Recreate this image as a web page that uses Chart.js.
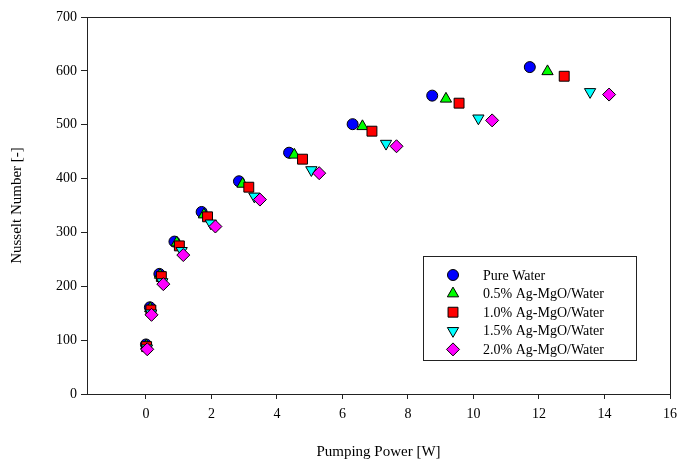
<!DOCTYPE html>
<html lang="en">
<head>
    <meta charset="UTF-8">
    <title>Nusselt Number vs Pumping Power</title>
    <style>
        body { margin: 0; background: #fff; }
        #wrap { width: 680px; height: 465px; position: relative; }
    </style>
</head>
<body>
    <div id="wrap">
        <canvas id="myChart" width="680" height="465"></canvas>
    </div>

    <script src="https://cdn.jsdelivr.net/npm/chart.js@4.4.0/dist/chart.umd.min.js"></script>
    <script>
        // values
        var seriesNames = ['Pure Water', '0.5% Ag-MgO/Water', '1.0% Ag-MgO/Water', '1.5% Ag-MgO/Water', '2.0% Ag-MgO/Water'];

        var waterX = [0.00, 0.12, 0.41, 0.87, 1.70, 2.84, 4.37, 6.31, 8.74, 11.72];
        var waterY = [92, 161, 223, 283, 338, 395, 448, 501, 554, 607];

        var ag05X = [0.01, 0.13, 0.43, 0.94, 1.77, 2.95, 4.53, 6.61, 9.16, 12.26];
        var ag05Y = [90, 159, 221, 281, 333, 390, 444, 497, 548, 599];

        var ag10X = [0.02, 0.15, 0.47, 1.02, 1.88, 3.14, 4.78, 6.90, 9.56, 12.77];
        var ag10Y = [88, 156, 218, 275, 329, 384, 436, 488, 540, 590];

        var ag15X = [0.03, 0.16, 0.50, 1.09, 1.98, 3.31, 5.05, 7.33, 10.15, 13.56];
        var ag15Y = [85, 150, 208, 266, 317, 367, 416, 465, 512, 561];

        var ag20X = [0.04, 0.17, 0.53, 1.14, 2.12, 3.48, 5.29, 7.65, 10.57, 14.14];
        var ag20Y = [83, 147, 204, 258, 311, 361, 410, 460, 508, 556];

        var xTicks = [0, 2, 4, 6, 8, 10, 12, 14, 16];
        var yTicks = [0, 100, 200, 300, 400, 500, 600, 700];

        var FONT = '"Liberation Serif", "Times New Roman", serif';

        function toPoints(xs, ys) {
            var pts = [];
            for (var i = 0; i < xs.length; i++) {
                pts.push({ x: xs[i], y: ys[i] });
            }
            return pts;
        }

        // marker looks, one per series
        var markers = [
            { color: '#0000ff', style: 'circle', radius: 5.5, rotation: 0 },
            { color: '#00ff00', style: 'triangle', radius: 6.5, rotation: 0 },
            { color: '#ff0000', style: 'rect', radius: 7, rotation: 0 },
            { color: '#00ffff', style: 'triangle', radius: 6.5, rotation: 180 },
            { color: '#ff00ff', style: 'rectRot', radius: 6.5, rotation: 0 }
        ];

        var allX = [waterX, ag05X, ag10X, ag15X, ag20X];
        var allY = [waterY, ag05Y, ag10Y, ag15Y, ag20Y];

        var datasets = [];
        for (var i = 0; i < seriesNames.length; i++) {
            datasets.push({
                label: seriesNames[i],
                data: toPoints(allX[i], allY[i]),
                backgroundColor: markers[i].color,
                borderColor: '#000',
                borderWidth: 1,
                pointStyle: markers[i].style,
                pointRadius: markers[i].radius,
                pointRotation: markers[i].rotation,
                showLine: false,
                order: seriesNames.length - i  // later series on top
            });
        }

        // box round the plot area + the legend inside it
        var framePlugin = {
            id: 'frame',
            afterDraw: function (chart) {
                var ctx = chart.ctx;
                var a = chart.chartArea;
                ctx.save();
                ctx.strokeStyle = '#222';
                ctx.lineWidth = 1;
                ctx.strokeRect(Math.round(a.left) + 0.5, Math.round(a.top) + 0.5,
                    Math.round(a.right - a.left), Math.round(a.bottom - a.top));

                // legend box
                var bx = 423.5, by = 256.5, bw = 213, bh = 104;
                ctx.fillStyle = '#fff';
                ctx.fillRect(bx, by, bw, bh);
                ctx.strokeRect(bx, by, bw, bh);

                ctx.font = '14px ' + FONT;
                ctx.textBaseline = 'middle';
                ctx.textAlign = 'left';
                for (var i = 0; i < seriesNames.length; i++) {
                    var ry = 275 + i * 18.6;
                    var m = markers[i];
                    ctx.fillStyle = m.color;
                    ctx.strokeStyle = '#000';
                    Chart.helpers.drawPoint(ctx, {
                        pointStyle: m.style,
                        radius: m.radius,
                        rotation: m.rotation,
                        borderWidth: 1
                    }, 453, ry);
                    ctx.fillStyle = '#000';
                    ctx.fillText(seriesNames[i], 483, ry + 1);
                }
                ctx.restore();
            }
        };

        var ctx = document.getElementById('myChart').getContext('2d');
        var myChart = new Chart(ctx, {
            type: 'scatter',
            data: { datasets: datasets },
            options: {
                responsive: false,
                animation: false,
                devicePixelRatio: 1,
                layout: { padding: { left: 0, right: 10, top: 17, bottom: 0 } },
                plugins: {
                    legend: { display: false },
                    tooltip: { enabled: false }
                },
                scales: {
                    x: {
                        type: 'linear',
                        min: -1.8,
                        max: 16,
                        afterBuildTicks: function (scale) {
                            scale.ticks = xTicks.map(function (v) { return { value: v }; });
                        },
                        afterFit: function (scale) {
                            scale.height = 71;
                            scale.paddingLeft = 0;
                            scale.paddingRight = 0;
                        },
                        border: { display: true, color: '#222', width: 1 },
                        grid: { drawOnChartArea: false, drawTicks: true, tickLength: 5, tickColor: '#222' },
                        ticks: {
                            color: '#000',
                            padding: 7,
                            maxRotation: 0,
                            font: { family: FONT, size: 14 }
                        },
                        title: {
                            display: true,
                            text: 'Pumping Power [W]',
                            color: '#000',
                            font: { family: FONT, size: 15 },
                            padding: { top: 0, bottom: 4 }
                        }
                    },
                    y: {
                        type: 'linear',
                        min: 0,
                        max: 700,
                        afterBuildTicks: function (scale) {
                            scale.ticks = yTicks.map(function (v) { return { value: v }; });
                        },
                        afterFit: function (scale) {
                            scale.width = 87;
                            scale.paddingTop = 0;
                            scale.paddingBottom = 0;
                        },
                        border: { display: true, color: '#222', width: 1 },
                        grid: { drawOnChartArea: false, drawTicks: true, tickLength: 6, tickColor: '#222' },
                        ticks: {
                            color: '#000',
                            padding: 4,
                            font: { family: FONT, size: 14 }
                        },
                        title: {
                            display: true,
                            text: 'Nusselt Number [-]',
                            color: '#000',
                            font: { family: FONT, size: 15 },
                            padding: { top: 8, bottom: 0 }
                        }
                    }
                }
            },
            plugins: [framePlugin]
        });
    </script>
</body>
</html>
